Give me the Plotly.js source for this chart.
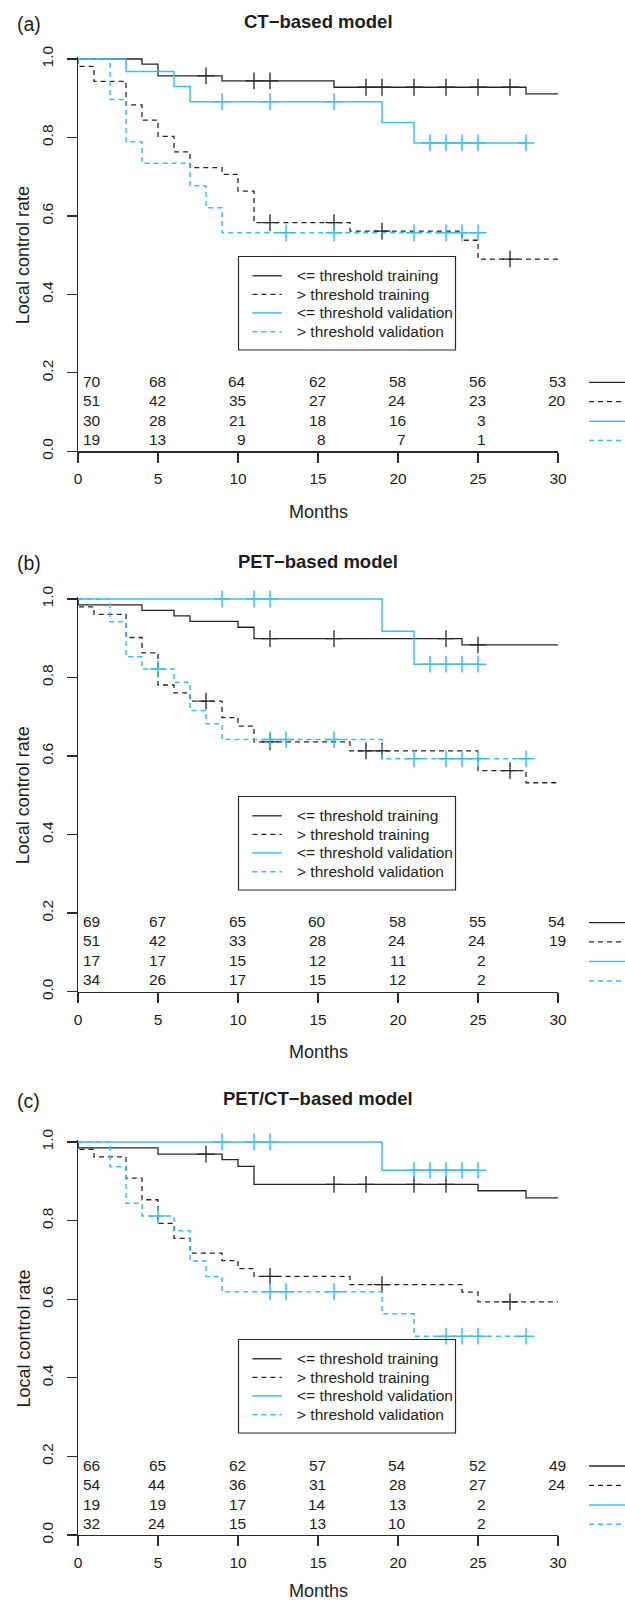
<!DOCTYPE html>
<html>
<head>
<meta charset="utf-8">
<script src="https://cdn.plot.ly/plotly-3.0.1.min.js"></script>
<style>html,body{margin:0;padding:0;background:#fff;}#chart{width:625px;height:1602px;}</style>
</head>
<body>
<div id="chart"></div>
<script>
// ---------------- data ----------------
const monthTicks = [0, 5, 10, 15, 20, 25, 30];
const rateTicks = [0.0, 0.2, 0.4, 0.6, 0.8, 1.0];
const seriesNames = ['<= threshold training', '> threshold training', '<= threshold validation', '> threshold validation'];
const panelTitles = ['CT−based model', 'PET−based model', 'PET/CT−based model'];
const panelLetters = ['(a)', '(b)', '(c)'];
const xTitle = 'Months';
const yTitle = 'Local control rate';

// (a) CT-based model
const aTrainLowTimes = [4, 5, 9, 16, 28];
const aTrainLowSurv  = [0.987, 0.957, 0.944, 0.928, 0.911];
const aTrainLowCens  = [8, 11, 12, 18, 19, 21, 23, 25, 27];
const aTrainLowEnd   = 30;
const aTrainHighTimes = [0, 1, 3, 4, 5, 6, 7, 9, 10, 11, 17, 24, 25];
const aTrainHighSurv  = [0.981, 0.943, 0.883, 0.844, 0.803, 0.763, 0.723, 0.706, 0.663, 0.583, 0.561, 0.538, 0.490];
const aTrainHighCens  = [12, 16, 19, 27];
const aTrainHighEnd   = 30;
const aValLowTimes = [3, 6, 7, 19, 21];
const aValLowSurv  = [0.968, 0.930, 0.891, 0.838, 0.786];
const aValLowCens  = [9, 12, 16, 22, 23, 24, 25, 28];
const aValLowEnd   = 28;
const aValHighTimes = [2, 3, 4, 7, 8, 9];
const aValHighSurv  = [0.897, 0.789, 0.734, 0.677, 0.621, 0.557];
const aValHighCens  = [13, 16, 21, 23, 24, 25];
const aValHighEnd   = 25;
const aAtRisk = [[70, 68, 64, 62, 58, 56, 53], [51, 42, 35, 27, 24, 23, 20], [30, 28, 21, 18, 16, 3], [19, 13, 9, 8, 7, 1]];

// (b) PET-based model
const bTrainLowTimes = [0, 4, 6, 7, 10, 11, 24];
const bTrainLowSurv  = [0.985, 0.971, 0.957, 0.943, 0.928, 0.899, 0.883];
const bTrainLowCens  = [12, 16, 23, 25];
const bTrainLowEnd   = 30;
const bTrainHighTimes = [0, 1, 3, 4, 5, 6, 7, 9, 10, 11, 17, 25, 28];
const bTrainHighSurv  = [0.980, 0.961, 0.902, 0.863, 0.781, 0.761, 0.740, 0.698, 0.676, 0.636, 0.613, 0.563, 0.532];
const bTrainHighCens  = [8, 12, 18, 19, 27];
const bTrainHighEnd   = 30;
const bValLowTimes = [19, 21];
const bValLowSurv  = [0.918, 0.834];
const bValLowCens  = [9, 11, 12, 22, 23, 24, 25];
const bValLowEnd   = 25;
const bValHighTimes = [2, 3, 4, 6, 7, 8, 9, 19];
const bValHighSurv  = [0.942, 0.853, 0.822, 0.788, 0.716, 0.682, 0.642, 0.593];
const bValHighCens  = [5, 12, 13, 16, 21, 23, 24, 25, 28];
const bValHighEnd   = 28;
const bAtRisk = [[69, 67, 65, 60, 58, 55, 54], [51, 42, 33, 28, 24, 24, 19], [17, 17, 15, 12, 11, 2], [34, 26, 17, 15, 12, 2]];

// (c) PET/CT-based model
const cTrainLowTimes = [0, 5, 9, 10, 11, 25, 28];
const cTrainLowSurv  = [0.985, 0.969, 0.955, 0.938, 0.892, 0.876, 0.858];
const cTrainLowCens  = [8, 16, 18, 21, 23];
const cTrainLowEnd   = 30;
const cTrainHighTimes = [0, 1, 3, 4, 5, 6, 7, 9, 10, 11, 17, 24, 25];
const cTrainHighSurv  = [0.981, 0.962, 0.908, 0.853, 0.793, 0.755, 0.717, 0.698, 0.678, 0.658, 0.637, 0.618, 0.593];
const cTrainHighCens  = [12, 19, 27];
const cTrainHighEnd   = 30;
const cValLowTimes = [19];
const cValLowSurv  = [0.928];
const cValLowCens  = [9, 11, 12, 21, 22, 23, 24, 25];
const cValLowEnd   = 25;
const cValHighTimes = [2, 3, 4, 6, 7, 8, 9, 19, 21];
const cValHighSurv  = [0.937, 0.844, 0.812, 0.774, 0.697, 0.658, 0.619, 0.563, 0.506];
const cValHighCens  = [5, 12, 13, 16, 23, 24, 25, 28];
const cValHighEnd   = 28;
const cAtRisk = [[66, 65, 62, 57, 54, 52, 49], [54, 44, 36, 31, 28, 27, 24], [19, 19, 17, 14, 13, 2], [32, 24, 15, 13, 10, 2]];

// ---------------- layout geometry (pixels) ----------------
const W = 625, H = 1602;
const X0PX = 78, X30PX = 558;
const PANEL_TOP = [59, 599, 1142];        // pixel of rate 1.0
const PANEL_BOT = [451.3, 991.6, 1535];   // pixel of rate 0.0
const TITLE_Y = [21, 561.5, 1098.3];
const LETTER_Y = [24.3, 562.5, 1100.8];
const Y_MAX = 1.004;
const RISK_ROW_OFF = [-70, -50.7, -31, -11.7];   // from rate-0 line
const LEG = {top: 197.5, bottom: 291, left: 238.5, right: 455.5, rows: [19.3, 37.9, 56.4, 75.2], l0: 252.4, l1: 281.7, tx: 295.3};
const SIDE_X0 = 589, SIDE_X1 = 626;

const FONT = 'Liberation Sans, Arial, Helvetica, sans-serif';
const TXT = '#1e1e1e';
const BLACK = '#262626';
const BLUE = '#3cbfee';
const AXC = '#2a2a2a';
const DASH = '5px,4px';
const styles = [
  {color: BLACK, dash: 'solid', width: 1.3},
  {color: BLACK, dash: DASH, width: 1.3},
  {color: BLUE, dash: 'solid', width: 1.5},
  {color: BLUE, dash: DASH, width: 1.5}
];

const fx = px => px / W;
const fy = py => 1 - py / H;
const esc = s => s.replace(/&/g, '&amp;').replace(/</g, '&lt;').replace(/>/g, '&gt;');

const panels = [
  {series: [
    {t: aTrainLowTimes, s: aTrainLowSurv, c: aTrainLowCens, end: aTrainLowEnd},
    {t: aTrainHighTimes, s: aTrainHighSurv, c: aTrainHighCens, end: aTrainHighEnd},
    {t: aValLowTimes, s: aValLowSurv, c: aValLowCens, end: aValLowEnd},
    {t: aValHighTimes, s: aValHighSurv, c: aValHighCens, end: aValHighEnd}], risk: aAtRisk},
  {series: [
    {t: bTrainLowTimes, s: bTrainLowSurv, c: bTrainLowCens, end: bTrainLowEnd},
    {t: bTrainHighTimes, s: bTrainHighSurv, c: bTrainHighCens, end: bTrainHighEnd},
    {t: bValLowTimes, s: bValLowSurv, c: bValLowCens, end: bValLowEnd},
    {t: bValHighTimes, s: bValHighSurv, c: bValHighCens, end: bValHighEnd}], risk: bAtRisk},
  {series: [
    {t: cTrainLowTimes, s: cTrainLowSurv, c: cTrainLowCens, end: cTrainLowEnd},
    {t: cTrainHighTimes, s: cTrainHighSurv, c: cTrainHighCens, end: cTrainHighEnd},
    {t: cValLowTimes, s: cValLowSurv, c: cValLowCens, end: cValLowEnd},
    {t: cValHighTimes, s: cValHighSurv, c: cValHighCens, end: cValHighEnd}], risk: cAtRisk}
];

function survAt(t, s, time) {
  let v = 1;
  for (let i = 0; i < t.length; i++) if (t[i] <= time) v = s[i];
  return v;
}

const traces = [];
const shapes = [];
const annotations = [];
const layout = {
  width: W, height: H,
  margin: {l: 0, r: 0, t: 0, b: 0},
  paper_bgcolor: '#ffffff', plot_bgcolor: 'rgba(0,0,0,0)',
  showlegend: false,
  font: {family: FONT, size: 15.5, color: TXT}
};

panels.forEach((p, k) => {
  const n = k + 1;
  const xa = 'x' + (n === 1 ? '' : n), ya = 'y' + (n === 1 ? '' : n);
  const T = PANEL_TOP[k], B = PANEL_BOT[k];
  const L = B - T;
  const topPx = T - (Y_MAX - 1) * L;
  layout['xaxis' + (n === 1 ? '' : n)] = {
    domain: [fx(X0PX), fx(X30PX)], range: [0, 30], anchor: ya,
    tickvals: monthTicks, ticktext: monthTicks.map(String),
    ticks: 'outside', ticklen: 10, tickwidth: 1.3, tickcolor: AXC,
    showline: true, linecolor: AXC, linewidth: 1.3,
    showgrid: false, zeroline: false, fixedrange: true,
    tickfont: {family: FONT, size: 15.5, color: TXT}, ticklabelstandoff: 3
  };
  layout['yaxis' + (n === 1 ? '' : n)] = {
    domain: [fy(B), fy(topPx)], range: [0, Y_MAX], anchor: xa,
    tickvals: rateTicks, ticktext: rateTicks.map(v => v.toFixed(1)), tickangle: -90,
    ticks: 'outside', ticklen: 9.5, tickwidth: 1.3, tickcolor: AXC,
    showline: true, linecolor: AXC, linewidth: 1.3,
    showgrid: false, zeroline: false, fixedrange: true,
    tickfont: {family: FONT, size: 15.5, color: TXT}, ticklabelstandoff: 8
  };

  p.series.forEach((sr, i) => {
    const st = styles[i];
    traces.push({
      type: 'scatter', mode: 'lines', xaxis: xa, yaxis: ya,
      x: [0].concat(sr.t, [sr.end]),
      y: [1].concat(sr.s, [sr.s[sr.s.length - 1]]),
      line: {shape: 'hv', color: st.color, width: st.width, dash: st.dash},
      hoverinfo: 'skip'
    });
    traces.push({
      type: 'scatter', mode: 'markers', xaxis: xa, yaxis: ya, cliponaxis: false,
      x: sr.c, y: sr.c.map(c => survAt(sr.t, sr.s, c)),
      marker: {symbol: 'cross-thin-open', size: 12, color: st.color, line: {color: st.color, width: st.width}},
      hoverinfo: 'skip'
    });
  });

  // titles
  annotations.push({xref: xa, yref: 'paper', x: 15, y: fy(TITLE_Y[k]), xanchor: 'center', yanchor: 'middle',
    text: '<b>' + panelTitles[k] + '</b>', showarrow: false, font: {family: FONT, size: 18.5, color: TXT}});
  annotations.push({xref: 'paper', yref: 'paper', x: fx(15), y: fy(LETTER_Y[k]), xanchor: 'left', yanchor: 'middle',
    text: panelLetters[k], showarrow: false, font: {family: FONT, size: 19.5, color: TXT}});
  annotations.push({xref: xa, yref: 'paper', x: 15, y: fy(Math.min(B + 60.4, H - 11)), xanchor: 'center', yanchor: 'middle',
    text: xTitle, showarrow: false, font: {family: FONT, size: 18, color: TXT}});
  annotations.push({xref: 'paper', yref: 'paper', x: fx(23), y: fy((T + B) / 2), xanchor: 'center', yanchor: 'middle',
    text: yTitle, textangle: -90, showarrow: false, font: {family: FONT, size: 18, color: TXT}});

  // at-risk table
  p.risk.forEach((row, r) => {
    const yy = fy(B + RISK_ROW_OFF[r]);
    row.forEach((v, j) => {
      annotations.push({xref: xa, yref: 'paper', x: monthTicks[j], y: yy,
        xanchor: j === 0 ? 'left' : 'right', xshift: j === 0 ? 3 : 10, yanchor: 'middle',
        text: String(v), showarrow: false, font: {family: FONT, size: 15.5, color: TXT}});
    });
    const st = styles[r];
    shapes.push({type: 'line', xref: 'paper', yref: 'paper', x0: fx(SIDE_X0), x1: fx(SIDE_X1),
      y0: fy(B + RISK_ROW_OFF[r] + 1), y1: fy(B + RISK_ROW_OFF[r] + 1),
      line: {color: st.color, width: st.width, dash: st.dash}});
  });

  // legend box
  shapes.push({type: 'rect', xref: 'paper', yref: 'paper', x0: fx(LEG.left), x1: fx(LEG.right),
    y0: fy(T + LEG.bottom), y1: fy(T + LEG.top), line: {color: AXC, width: 1.2}, fillcolor: 'rgba(0,0,0,0)'});
  seriesNames.forEach((nm, i) => {
    const yp = T + LEG.top + LEG.rows[i];
    const st = styles[i];
    shapes.push({type: 'line', xref: 'paper', yref: 'paper', x0: fx(LEG.l0), x1: fx(LEG.l1), y0: fy(yp), y1: fy(yp),
      line: {color: st.color, width: st.width, dash: st.dash}});
    annotations.push({xref: 'paper', yref: 'paper', x: fx(LEG.tx), y: fy(yp), xanchor: 'left', yanchor: 'middle',
      text: esc(nm), showarrow: false, font: {family: FONT, size: 15.5, color: TXT}});
  });
});

layout.shapes = shapes;
layout.annotations = annotations;

Plotly.newPlot('chart', traces, layout, {displayModeBar: false, staticPlot: true});
</script>
</body>
</html>
